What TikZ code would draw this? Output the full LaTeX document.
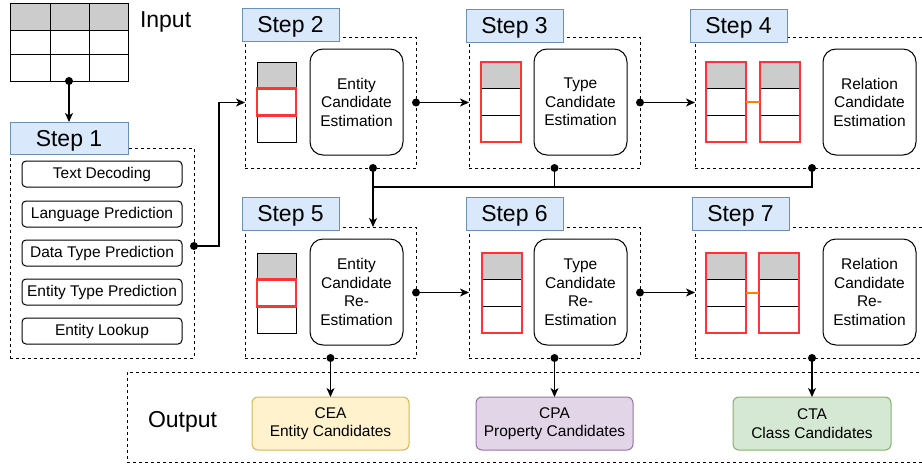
\documentclass[tikz,border=0pt]{standalone}
\usepackage{fontspec}
\setmainfont{Liberation Sans}
\usetikzlibrary{arrows.meta,calc}
\definecolor{lblfill}{HTML}{DAE8FC}
\definecolor{lbldraw}{HTML}{6C8EBF}
\definecolor{cellgray}{HTML}{CCCCCC}
\definecolor{redc}{HTML}{FF3333}
\definecolor{orangec}{HTML}{FF8000}
\definecolor{ceaf}{HTML}{FFF2CC}\definecolor{ceab}{HTML}{D6B656}
\definecolor{cpaf}{HTML}{E1D5E7}\definecolor{cpab}{HTML}{9673A6}
\definecolor{ctaf}{HTML}{D5E8D4}\definecolor{ctab}{HTML}{82B366}
\begin{document}
\begin{tikzpicture}[x=1pt,y=-1pt,
  every node/.style={inner sep=0pt, outer sep=0pt},
  small/.style={font=\fontsize{15.5}{18.5}\selectfont},
  big/.style={font=\fontsize{23}{27}\selectfont},
  dashbox/.style={draw=black, line width=1pt, dash pattern=on 3pt off 3pt, anchor=north west},
  lbl/.style={draw=lbldraw, fill=lblfill, line width=1pt, anchor=north west, minimum width=97pt, minimum height=33pt, big, text height=16.5pt, text depth=0pt},
  item/.style={draw, line width=1pt, rounded corners=4pt, anchor=north west, minimum width=160pt, minimum height=26pt, small},
  proc/.style={draw, line width=1pt, rounded corners=13pt, anchor=north west, minimum width=93pt, minimum height=106pt, small, align=center},
  outb/.style={line width=1pt, rounded corners=6pt, anchor=north west, minimum width=157pt, minimum height=53pt, small, align=center},
  enttab/.style={draw, line width=1pt, anchor=north west, minimum width=39pt, minimum height=80pt,
    path picture={\fill[cellgray] (path picture bounding box.north west) rectangle ([yshift=-26pt]path picture bounding box.north east);}},
  redcell/.style={draw=redc, line width=2.4pt, minimum width=39pt, minimum height=27pt},
  redtab/.style={draw=redc, line width=2.4pt, anchor=north west, minimum width=40pt, minimum height=80pt,
    path picture={
      \fill[cellgray] (path picture bounding box.north west) rectangle ([yshift=-26.5pt]path picture bounding box.north east);
      \draw[black,line width=1pt] ([yshift=-26.5pt]path picture bounding box.north west) -- ([yshift=-26.5pt]path picture bounding box.north east);
      \draw[black,line width=1pt] ([yshift=26.5pt]path picture bounding box.south west) -- ([yshift=26.5pt]path picture bounding box.south east);}},
  conn/.style={draw, line width=1.2pt, -{Stealth[length=9pt,width=8pt,inset=2.5pt]}},
  wire/.style={draw, line width=1.2pt},
  dotr/.style={radius=4pt}
]
\clip (0,0) rectangle (922,466);

% Input table
\node[anchor=north west, minimum width=118pt, minimum height=78pt] (input) at (10,3) {};
\fill[cellgray] (input.north west) rectangle ([yshift=-27pt]input.north east);
\draw[line width=1pt] (input.north west) rectangle (input.south east)
  ([yshift=-27pt]input.north west) -- ([yshift=-27pt]input.north east)
  ([yshift=27pt]input.south west) -- ([yshift=27pt]input.south east)
  ([xshift=40pt]input.north west) -- ([xshift=40pt]input.south west)
  ([xshift=-39pt]input.north east) -- ([xshift=-39pt]input.south east);
\node[big, anchor=base west] (inputtxt) at (140,27) {Input};

% Step 1
\node[dashbox, minimum width=184pt, minimum height=210pt] (s1box) at (10,148) {};
\node[lbl, minimum width=118pt, minimum height=32pt] (s1lbl) at (10,122) {Step 1};
\node[item] (i1) at (22,161) {Text Decoding};
\node[item] (i2) at (22,201) {Language Prediction};
\node[item] (i3) at (22,240) {Data Type Prediction};
\node[item] (i4) at (22,279) {Entity Type Prediction};
\node[item] (i5) at (22,318) {Entity Lookup};

% Step 2
\node[dashbox, minimum width=171pt, minimum height=131pt] (s2box) at (245,37) {};
\node[lbl] (s2lbl) at (242,8) {Step 2};
\node[enttab] (t2) at (257,62) {};
\node[redcell] (r2) at (t2.center) {};
\node[proc] (p2) at (310,49) {Entity\\Candidate\\Estimation};

% Step 3
\node[dashbox, minimum width=171pt, minimum height=131pt] (s3box) at (469,37) {};
\node[lbl] (s3lbl) at (466,9) {Step 3};
\node[redtab] (t3) at (481,62) {};
\node[proc] (p3) at (534,49) {Type\\Candidate\\Estimation};

% Step 4
\node[dashbox, minimum width=240pt, minimum height=131pt] (s4box) at (695,37) {};
\node[lbl] (s4lbl) at (690,9) {Step 4};
\node[redtab] (t4a) at (706,62) {};
\node[redtab] (t4b) at (760,62) {};
\draw[orangec, line width=2pt] (t4a.east) -- (t4b.west);
\node[proc] (p4) at (823,49) {Relation\\Candidate\\Estimation};

% Step 5
\node[dashbox, minimum width=171pt, minimum height=131pt] (s5box) at (245,227) {};
\node[lbl] (s5lbl) at (242,197) {Step 5};
\node[enttab] (t5) at (257,253) {};
\node[redcell] (r5) at (t5.center) {};
\node[proc] (p5) at (310,239) {Entity\\Candidate\\Re-\\Estimation};

% Step 6
\node[dashbox, minimum width=171pt, minimum height=131pt] (s6box) at (469,227) {};
\node[lbl] (s6lbl) at (466,197) {Step 6};
\node[redtab] (t6) at (482,253) {};
\node[proc] (p6) at (534,239) {Type\\Candidate\\Re-\\Estimation};

% Step 7
\node[dashbox, minimum width=240pt, minimum height=131pt] (s7box) at (695,227) {};
\node[lbl] (s7lbl) at (692,197) {Step 7};
\node[redtab] (t7a) at (706,253) {};
\node[redtab] (t7b) at (759,253) {};
\draw[orangec, line width=2pt] (t7a.east) -- (t7b.west);
\node[proc] (p7) at (823,239) {Relation\\Candidate\\Re-\\Estimation};

% Output
\node[dashbox, minimum width=810pt, minimum height=90pt] (outbox) at (127,372) {};
\node[big, anchor=base west] (outtxt) at (148,427) {Output};
\node[outb, draw=ceab, fill=ceaf] (cea) at (252,397) {CEA\\Entity Candidates};
\node[outb, draw=cpab, fill=cpaf] (cpa) at (476,397) {CPA\\Property Candidates};
\node[outb, draw=ctab, fill=ctaf, minimum width=158pt] (cta) at (733,397) {CTA\\Class Candidates};

% Connectors
\draw[conn] (input.south) -- (s1lbl.north);
\fill (input.south) circle[dotr];

\coordinate (d1) at ($(s1box.north east)+(0,98)$);
\draw[conn] (d1) -- ++(25,0) |- (s2box.west);
\fill (d1) circle[dotr];

\draw[conn] (s2box.east) -- (s3box.west);
\fill (s2box.east) circle[dotr];
\draw[conn] (s3box.east) -- (s4box.west);
\fill (s3box.east) circle[dotr];

\coordinate (b2) at ($(s2box.south west)+(128,0)$);
\coordinate (b4) at (cta.north |- s4box.south);
\coordinate (j) at ($(b2)+(0,19)$);
\draw[wire] (s3box.south) |- (j);
\draw[wire] (b4) |- (j);
\draw[conn] (b2) -- (b2 |- s5box.north);
\fill (b2) circle[dotr];
\fill (s3box.south) circle[dotr];
\fill (b4) circle[dotr];

\draw[conn] (s5box.east) -- (s6box.west);
\fill (s5box.east) circle[dotr];
\draw[conn] (s6box.east) -- (s7box.west);
\fill (s6box.east) circle[dotr];

\coordinate (b7) at (cta.north |- s7box.south);
\draw[conn] (s5box.south) -- (cea.north);
\fill (s5box.south) circle[dotr];
\draw[conn] (s6box.south) -- (cpa.north);
\fill (s6box.south) circle[dotr];
\draw[conn] (b7) -- (cta.north);
\fill (b7) circle[dotr];
\end{tikzpicture}
\end{document}
